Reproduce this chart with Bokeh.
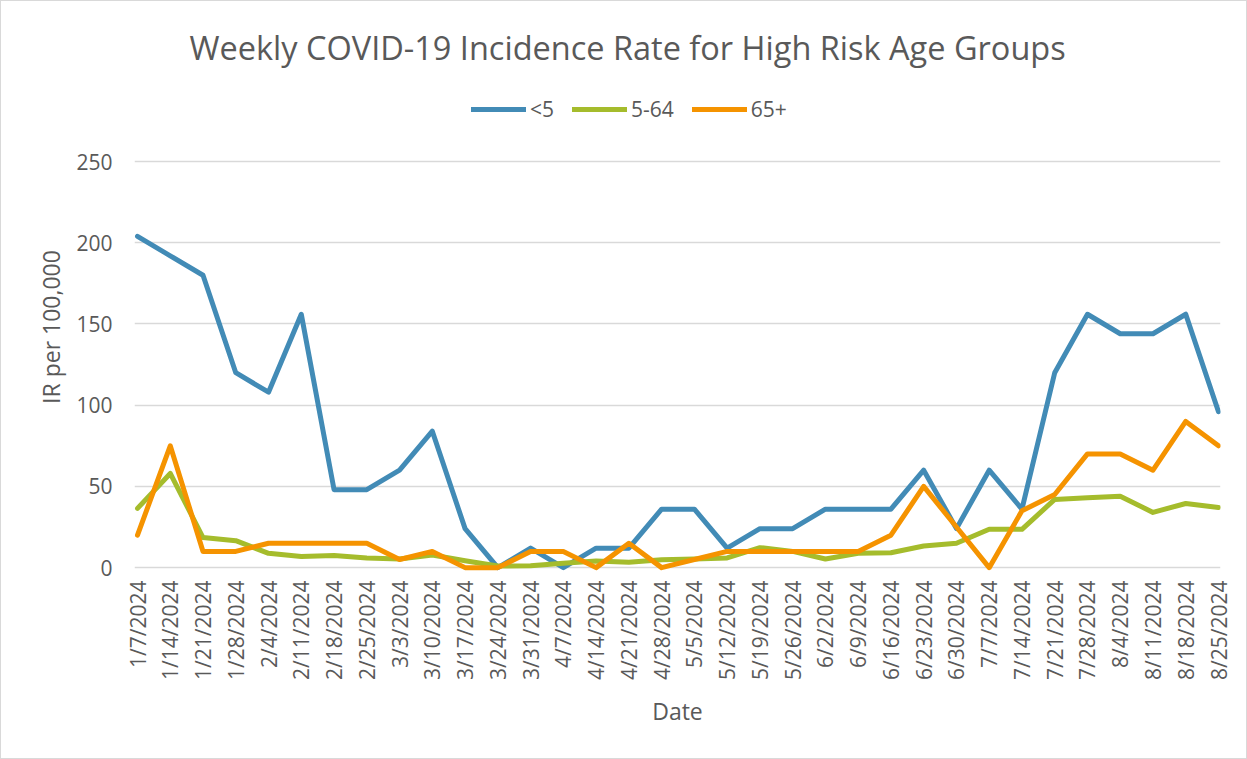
import math
from bokeh.plotting import figure
from bokeh.models import Range1d, FixedTicker, Legend, LegendItem
from bokeh.embed import file_html
from bokeh.resources import INLINE

dates = ["1/7/2024", "1/14/2024", "1/21/2024", "1/28/2024", "2/4/2024", "2/11/2024",
         "2/18/2024", "2/25/2024", "3/3/2024", "3/10/2024", "3/17/2024", "3/24/2024",
         "3/31/2024", "4/7/2024", "4/14/2024", "4/21/2024", "4/28/2024", "5/5/2024",
         "5/12/2024", "5/19/2024", "5/26/2024", "6/2/2024", "6/9/2024", "6/16/2024",
         "6/23/2024", "6/30/2024", "7/7/2024", "7/14/2024", "7/21/2024", "7/28/2024",
         "8/4/2024", "8/11/2024", "8/18/2024", "8/25/2024"]

under5 = [204, 192, 180, 120, 108, 156, 48, 48, 60, 84, 24, 0, 12, 0, 12, 12, 36, 36,
          12, 24, 24, 36, 36, 36, 60, 24, 60, 36, 120, 156, 144, 144, 156, 96]
age5_64 = [36.5, 58, 18.5, 16.6, 8.8, 6.8, 7.4, 6, 5.3, 7.8, 4.2, 1, 1.2, 2.7, 4.1, 3.3,
           4.9, 5.3, 6, 12.3, 10, 5.3, 8.8, 9.2, 13.3, 15, 23.6, 23.6, 42, 43, 44, 34,
           39.5, 37]
age65 = [20, 75, 10, 10, 15, 15, 15, 15, 5, 10, 0, 0, 10, 10, 0, 15, 0, 5, 10, 10, 10,
         10, 10, 20, 50, 25, 0, 35, 45, 70, 70, 60, 90, 75]

series_names = ["<5", "5-64", "65+"]
series_colors = ["#428BB6", "#A5BC2C", "#F59300"]

FONT = "Open Sans"
GREY = "#595959"

idx = list(range(len(dates)))

# frame: page y 80..571 (0 at 566, 250 at 160), page x 133..1219
p = figure(width=1247, height=759, output_backend="svg", toolbar_location=None,
           x_range=Range1d(-0.0916, 33.061), y_range=Range1d(-3, 299.3),
           min_border_left=133, min_border_right=28, min_border_top=80,
           min_border_bottom=188)
p.styles = {"border": "1px solid #d9d9d9", "box-sizing": "border-box"}

renderers = []
for vals, col in zip([under5, age5_64, age65], series_colors):
    r = p.line(idx, vals, line_color=col, line_width=5, line_join="round",
               line_cap="round")
    renderers.append(r)

legend = Legend(items=[LegendItem(label=n, renderers=[r])
                       for n, r in zip(series_names, renderers)],
                orientation="horizontal", location=(337, 449), margin=0, padding=0,
                label_text_font=FONT, label_text_font_size="21px",
                label_text_color=GREY, glyph_width=55, glyph_height=24,
                label_standoff=4, spacing=18, border_line_color=None,
                background_fill_alpha=0)
p.add_layout(legend)

p.title.text = "Weekly COVID-19 Incidence Rate for High Risk Age Groups"
p.title.align = "left"
p.title.offset = 55
p.title.text_font = FONT
p.title.text_font_size = "32.5px"
p.title.text_font_style = "normal"
p.title.text_color = GREY
p.title.standoff = 24

p.outline_line_color = None
p.xgrid.grid_line_color = None
p.ygrid.grid_line_color = "#d9d9d9"
p.ygrid.grid_line_width = 1.5

p.yaxis.ticker = FixedTicker(ticks=[0, 50, 100, 150, 200, 250])
p.xaxis.ticker = FixedTicker(ticks=idx)
p.xaxis.major_label_overrides = {i: d for i, d in enumerate(dates)}
p.xaxis.major_label_orientation = math.pi / 2

for ax in (p.xaxis, p.yaxis):
    ax.axis_line_color = None
    ax.major_tick_line_color = None
    ax.minor_tick_line_color = None
    ax.major_label_text_font = FONT
    ax.major_label_text_font_size = "21px"
    ax.major_label_text_color = GREY
    ax.axis_label_text_font = FONT
    ax.axis_label_text_font_size = "23px"
    ax.axis_label_text_font_style = "normal"
    ax.axis_label_text_color = GREY

p.yaxis.axis_label = "IR per 100,000"
p.yaxis.major_label_standoff = 16
p.yaxis.axis_label_standoff = 6
p.xaxis.axis_label = "Date"
p.xaxis.major_label_standoff = 2
p.xaxis.axis_label_standoff = 12

open("out.html", "w").write(file_html(p, INLINE))
